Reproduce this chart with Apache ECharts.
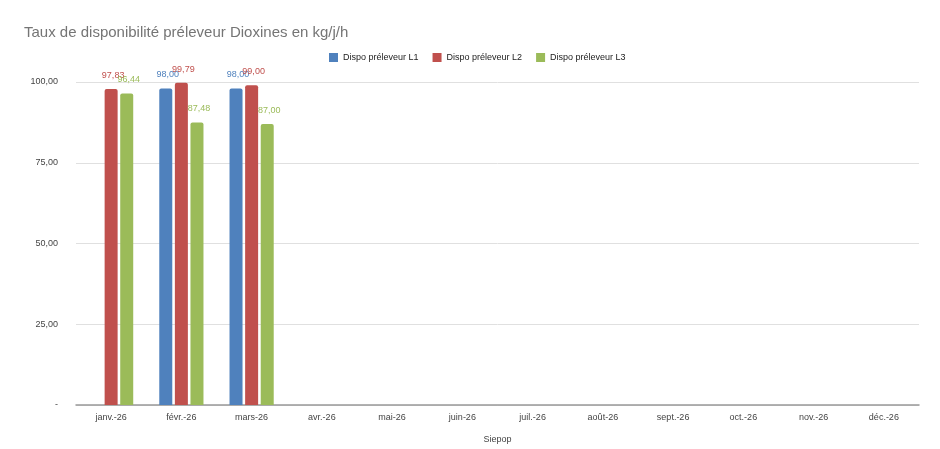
<!DOCTYPE html>
<html>
<head>
<meta charset="UTF-8">
<title>Taux de disponibilité préleveur Dioxines</title>
<script src="https://cdn.jsdelivr.net/npm/echarts@6/dist/echarts.min.js"></script>
<style>
    html, body { margin: 0; padding: 0; background: #fff; }
    #main { width: 940px; height: 449px; }
</style>
</head>
<body>
<div id="main"></div>
<script>
    // mois (axe x)
    const months = ['janv.-26', 'févr.-26', 'mars-26', 'avr.-26', 'mai-26', 'juin-26',
                    'juil.-26', 'août-26', 'sept.-26', 'oct.-26', 'nov.-26', 'déc.-26'];
    const seriesNames = ['Dispo préleveur L1', 'Dispo préleveur L2', 'Dispo préleveur L3'];
    const dispoL1 = [null, 98.00, 98.00, null, null, null, null, null, null, null, null, null];
    const dispoL2 = [97.83, 99.79, 99.00, null, null, null, null, null, null, null, null, null];
    const dispoL3 = [96.44, 87.48, 87.00, null, null, null, null, null, null, null, null, null];
    const colors = ['#4F81BD', '#C0504D', '#9BBB59'];

    function fr(v) {
        return v.toFixed(2).replace('.', ',');
    }

    function makeSeries(name, data, color) {
        return {
            name: name,
            type: 'bar',
            data: data,
            barWidth: 13,
            barGap: '20%',
            itemStyle: { color: color, borderRadius: [2, 2, 0, 0] },
            label: {
                show: true,
                position: 'top',
                distance: 9,
                offset: [2, 0],
                color: color,
                fontSize: 9,
                fontFamily: 'Liberation Sans',
                formatter: p => p.value == null ? '' : fr(p.value)
            }
        };
    }

    const chart = echarts.init(document.getElementById('main'));
    chart.setOption({
        animation: false,
        textStyle: { fontFamily: 'Liberation Sans' },
        title: {
            text: 'Taux de disponibilité préleveur Dioxines en kg/j/h',
            left: 19,
            top: 20,
            textStyle: { fontSize: 15, fontWeight: 'normal', color: '#757575', fontFamily: 'Liberation Sans' }
        },
        color: colors,
        legend: {
            data: seriesNames,
            left: 324,
            top: 48,
            itemWidth: 9,
            itemHeight: 9,
            itemGap: 14,
            icon: 'rect',
            textStyle: { fontSize: 9, color: '#222' }
        },
        grid: { left: 76, right: 21, top: 82, bottom: 42 },
        xAxis: {
            type: 'category',
            data: months,
            name: 'Siepop',
            nameLocation: 'middle',
            nameGap: 30,
            nameTextStyle: { fontSize: 9, color: '#444' },
            axisLine: { lineStyle: { color: '#999', width: 1.5 } },
            axisTick: { show: false },
            axisLabel: { fontSize: 9, color: '#444', margin: 8 }
        },
        yAxis: {
            type: 'value',
            min: 0,
            max: 100,
            interval: 25,
            axisLine: { show: false },
            axisTick: { show: false },
            splitLine: { lineStyle: { color: '#e0e0e0' } },
            axisLabel: {
                fontSize: 9,
                color: '#444',
                margin: 18,
                formatter: v => v === 0 ? '-' : fr(v)
            }
        },
        series: [
            makeSeries(seriesNames[0], dispoL1, colors[0]),
            makeSeries(seriesNames[1], dispoL2, colors[1]),
            makeSeries(seriesNames[2], dispoL3, colors[2])
        ]
    });
</script>
</body>
</html>
